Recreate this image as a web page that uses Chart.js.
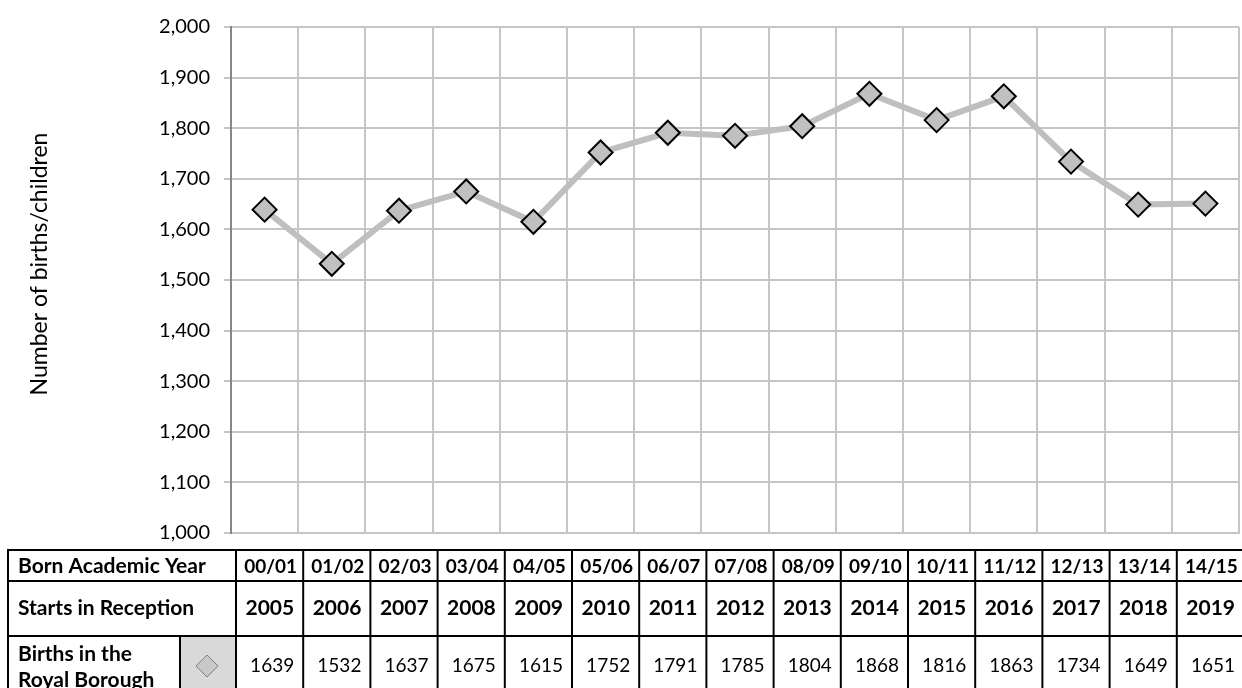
<!DOCTYPE html>
<html lang="en">
<head>
<meta charset="UTF-8">
<title>Births in the Royal Borough</title>
<style>
  html,body{margin:0;padding:0;background:#fff;}
  #wrap{position:relative;width:1242px;height:688px;}
</style>
<script src="https://cdn.jsdelivr.net/npm/chart.js"></script>
</head>
<body>
<div id="wrap"><canvas id="births"></canvas></div>
<script>
/* ===== Data ===== */
const bornYears=["00/01","01/02","02/03","03/04","04/05","05/06","06/07","07/08","08/09","09/10","10/11","11/12","12/13","13/14","14/15"];
const receptionYears=["2005","2006","2007","2008","2009","2010","2011","2012","2013","2014","2015","2016","2017","2018","2019"];
const births=[1639,1532,1637,1675,1615,1752,1791,1785,1804,1868,1816,1863,1734,1649,1651];
const yMin=1000,yMax=2000,yStep=100;
const yTitle="Number of births/children";
const rowLabels=["Born Academic Year","Starts in Reception",["Births in the","Royal Borough"]];

/* ===== Style ===== */
const FONT="Lato, 'Open Sans', sans-serif";
const GRID="#c6c6c6";
const LINE="#bfbfbf";

/* ===== Axis title + data table under the plot ===== */
const dataTable={
  id:"dataTable",
  afterDraw(chart){
    const {ctx,chartArea:a,scales:{x}}=chart;
    const n=births.length,colW=(a.right-a.left)/n,shift=5;
    const top=a.bottom+17,r1=top+31,r2=r1+55,bot=chart.height+4;
    const tl=8,keyL=180;
    const colL=i=>x.getPixelForValue(i)-colW/2+shift;
    const firstCol=colL(0),lastCol=colL(n-1)+colW;
    ctx.save();
    // y axis title (Excel places it a little above the plot centre)
    ctx.save();
    ctx.translate(40,(a.top+a.bottom)/2-16);
    ctx.rotate(-Math.PI/2);
    ctx.fillStyle="#000";ctx.textAlign="center";ctx.textBaseline="middle";
    ctx.font="23px "+FONT;
    ctx.fillText(yTitle,0,0);
    ctx.restore();
    // legend key cell
    ctx.fillStyle="#d9d9d9";
    ctx.fillRect(keyL,r2,firstCol-keyL,bot-r2);
    const kx=(keyL+firstCol)/2-1,ky=r2+30;
    ctx.beginPath();
    ctx.moveTo(kx,ky-11);ctx.lineTo(kx+11,ky);ctx.lineTo(kx,ky+11);ctx.lineTo(kx-11,ky);ctx.closePath();
    ctx.fillStyle="#c8c8c8";ctx.strokeStyle="#7f7f7f";ctx.lineWidth=1;
    ctx.fill();ctx.stroke();
    // grid lines
    ctx.strokeStyle="#000";ctx.lineWidth=2;
    ctx.beginPath();
    [top,r1,r2].forEach(y=>{ctx.moveTo(tl-1,y);ctx.lineTo(lastCol+1,y);});
    ctx.moveTo(tl,top);ctx.lineTo(tl,bot);
    ctx.moveTo(keyL,r2);ctx.lineTo(keyL,bot);
    for(let i=0;i<=n;i++){const xx=i<n?colL(i):lastCol;ctx.moveTo(xx,top);ctx.lineTo(xx,bot);}
    ctx.stroke();
    // row labels
    ctx.fillStyle="#000";ctx.textBaseline="middle";ctx.textAlign="left";
    ctx.font="bold 21px "+FONT;
    ctx.fillText(rowLabels[0],18,(top+r1)/2+1);
    ctx.fillText(rowLabels[1],18,(r1+r2)/2);
    ctx.fillText(rowLabels[2][0],18,r2+18);
    ctx.fillText(rowLabels[2][1],18,r2+44);
    // cells
    for(let i=0;i<n;i++){
      const L=colL(i),R=L+colW;
      ctx.textAlign="center";
      ctx.font="bold 19px "+FONT;
      ctx.fillText(bornYears[i],(L+R)/2+1,(top+r1)/2+1);
      ctx.textAlign="right";
      ctx.font="bold 21px "+FONT;
      ctx.fillText(receptionYears[i],R-9,(r1+r2)/2);
      ctx.font="19px "+FONT;
      ctx.fillText(String(births[i]),R-9,r2+30);
    }
    ctx.restore();
  }
};

/* ===== Chart ===== */
Chart.defaults.font.family=FONT;
Chart.defaults.color="#000";
new Chart(document.getElementById("births"),{
  type:"line",
  data:{
    labels:bornYears,
    datasets:[{
      label:"Births in the Royal Borough",
      data:births,
      borderColor:LINE,borderWidth:6,tension:0,
      pointStyle:"rectRot",pointRadius:12,pointHoverRadius:12,
      pointBackgroundColor:"#c0c0c0",pointBorderColor:"#000",pointBorderWidth:2
    }]
  },
  options:{
    responsive:true,maintainAspectRatio:false,animation:false,
    layout:{autoPadding:false,padding:{top:27,right:3,bottom:155,left:0}},
    plugins:{legend:{display:false},tooltip:{enabled:false}},
    scales:{
      x:{
        type:"category",offset:true,
        grid:{offset:true,color:GRID,lineWidth:2,drawTicks:false},
        border:{color:GRID,width:2},
        ticks:{display:false},
        afterFit(s){s.height=0;}
      },
      y:{
        min:yMin,max:yMax,
        ticks:{stepSize:yStep,padding:14,font:{size:20},color:"#000",
          callback:v=>v.toLocaleString("en-US")},
        grid:{color:GRID,lineWidth:2,tickLength:7},
        border:{color:"#878787",width:2},
        afterFit(s){s.width=231;}
      }
    }
  },
  plugins:[dataTable]
});
</script>
</body>
</html>
